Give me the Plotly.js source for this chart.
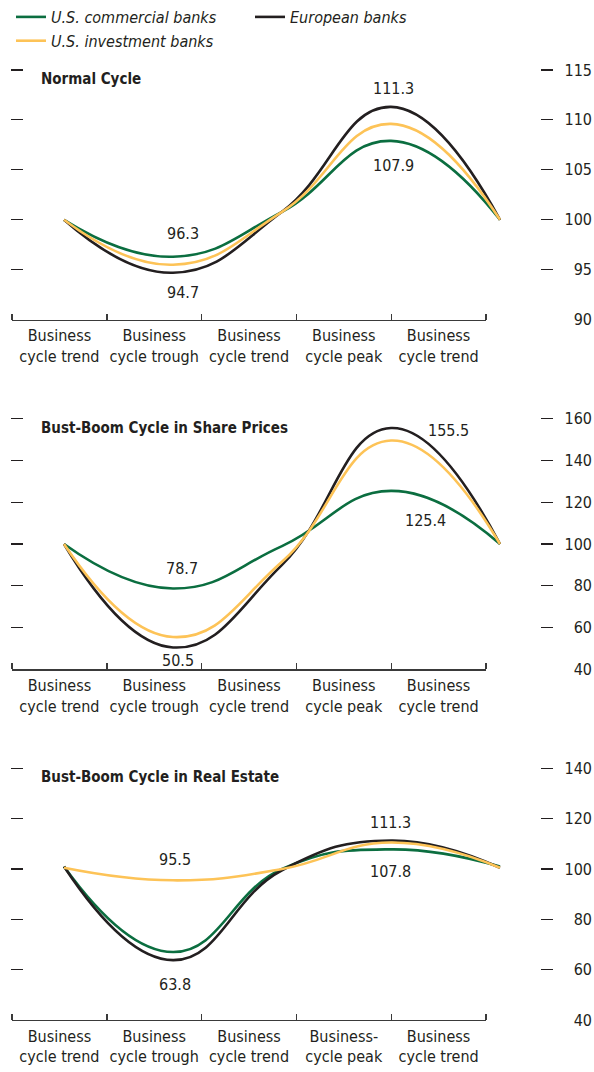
<!DOCTYPE html>
<html>
<head>
<meta charset="utf-8">
<script src="https://cdn.plot.ly/plotly-3.0.1.min.js"></script>
<style>html,body{margin:0;padding:0;background:#fff;}</style>
</head>
<body>
<div id="chart" style="width:594px;height:1072px;"></div>
<script>
// ---------- DATA ----------
const stageIndex = [0, 1, 2, 3, 4];
const stageLabels = ['Business<br>cycle trend', 'Business<br>cycle trough', 'Business<br>cycle trend', 'Business<br>cycle peak', 'Business<br>cycle trend'];
const stageLabels3 = ['Business<br>cycle trend', 'Business<br>cycle trough', 'Business<br>cycle trend', 'Business-<br>cycle peak', 'Business<br>cycle trend'];
const seriesNames = ['U.S. commercial banks', 'European banks', 'U.S. investment banks'];
const panelTitles = ['Normal Cycle', 'Bust-Boom Cycle in Share Prices', 'Bust-Boom Cycle in Real Estate'];

// Normal cycle
const normalCommercial = [100, 96.3, 100.8, 107.9, 100];
const normalEuropean   = [100, 94.7, 100.8, 111.3, 100];
const normalInvestment = [100, 95.5, 100.8, 109.6, 100];
// Bust-boom in share prices
const sharesCommercial = [100, 78.7, 99, 125.4, 100];
const sharesEuropean   = [100, 50.5, 90, 155.5, 100];
const sharesInvestment = [100, 55.5, 91.5, 149.5, 100];
// Bust-boom in real estate
const estateCommercial = [101, 67, 100, 107.8, 101];
const estateEuropean   = [101, 63.8, 99.5, 111.3, 100.5];
const estateInvestment = [100.5, 95.5, 100, 110.5, 100.5];

const yTicks1 = [90, 95, 100, 105, 110, 115];
const yTicks2 = [40, 60, 80, 100, 120, 140, 160];
const yTicks3 = [40, 60, 80, 100, 120, 140];

// ---------- STYLE ----------
const FONT = "'Liberation Sans Narrow', 'DejaVu Sans Condensed', 'Roboto Condensed', 'Arial Narrow', sans-serif";
const TXT = '#231f20';
const colors = ['#0b6e40', '#231f20', '#fdc357'];
const H = 1072, W = 594;
const px = v => v / W;
const py = v => 1 - v / H;

const panels = [
  {data: [normalCommercial, normalEuropean, normalInvestment], ticks: yTicks1, range: [90, 115], top: 69, bottom: 319, cats: stageLabels,
   labels: [[1, 3, 2, 18], [0, 3, 2, -25], [0, 1, 10, 23], [1, 1, 10, -20]]},
  {data: [sharesCommercial, sharesEuropean, sharesInvestment], ticks: yTicks2, range: [40, 160], top: 418, bottom: 669, cats: stageLabels,
   labels: [[1, 3, 57, -2], [0, 3, 34, -30], [0, 1, 9, 20], [1, 1, 5, -13]]},
  {data: [estateCommercial, estateEuropean, estateInvestment], ticks: yTicks3, range: [40, 140], top: 768, bottom: 1020, cats: stageLabels3,
   labels: [[2, 1, 2, 21], [1, 1, 2, -24], [1, 3, -1, 18], [0, 3, -1, -22]]}
];

const traces = [];
const layout = {
  width: W, height: H,
  margin: {l: 0, r: 0, t: 0, b: 0},
  paper_bgcolor: '#fff', plot_bgcolor: 'rgba(0,0,0,0)',
  font: {family: FONT, size: 16, color: TXT},
  showlegend: true,
  legend: {
    orientation: 'h', x: px(11), xanchor: 'left', y: py(-1), yanchor: 'top',
    entrywidth: 194, entrywidthmode: 'pixels', traceorder: 'normal',
    font: {family: FONT, size: 16, color: TXT, style: 'italic'},
    itemwidth: 30, tracegroupgap: 0, bgcolor: 'rgba(0,0,0,0)'
  },
  annotations: [],
  hovermode: false
};

panels.forEach((p, k) => {
  const xd = 'x' + (2 * k + 1), xl = 'x' + (2 * k + 2);
  const yd = 'y' + (2 * k + 1), yl = 'y' + (2 * k + 2);
  const xdKey = 'xaxis' + (2 * k + 1), xlKey = 'xaxis' + (2 * k + 2);
  const ydKey = 'yaxis' + (2 * k + 1), ylKey = 'yaxis' + (2 * k + 2);
  const dom = [py(p.bottom), py(p.top)];

  p.data.forEach((vals, s) => {
    traces.push({
      x: stageIndex, y: vals, xaxis: xd, yaxis: yd, type: 'scatter', mode: 'lines',
      name: seriesNames[s], legendgroup: seriesNames[s], showlegend: k === 0,
      line: {color: colors[s], width: 2.6, shape: 'spline', smoothing: 1.3},
      hoverinfo: 'skip'
    });
  });
  // placeholder traces so that the category-axis and tick-label-axis subplots exist
  traces.push({x: [], y: [], xaxis: xl, yaxis: yd, type: 'scatter', mode: 'lines', showlegend: false, hoverinfo: 'skip'});
  traces.push({x: [], y: [], xaxis: xd, yaxis: yl, type: 'scatter', mode: 'lines', showlegend: false, hoverinfo: 'skip'});

  layout[xdKey] = {domain: [px(24), px(540)], range: [-0.367, 4.367], anchor: yd, visible: false, fixedrange: true};
  layout[xlKey] = {
    domain: [px(12), px(486)], range: [0, 5], anchor: yd,
    tickmode: 'array', tickvals: [0.5, 1.5, 2.5, 3.5, 4.5], ticktext: p.cats,
    ticks: '', showgrid: false, zeroline: false,
    showline: true, linecolor: '#3a3a3a', linewidth: 1.4,
    minor: {tickmode: 'array', tickvals: [0, 1, 2, 3, 4, 5], ticks: 'inside', ticklen: 6, tickcolor: '#3a3a3a', tickwidth: 1.4, showgrid: false},
    tickfont: {family: FONT, size: 16, color: TXT}, ticklabelstandoff: 1, fixedrange: true
  };
  layout[ydKey] = {
    domain: dom, range: p.range, anchor: xd, side: 'right',
    tickmode: 'array', tickvals: p.ticks.slice(1), showticklabels: false,
    ticks: 'outside', ticklen: 12, tickwidth: 1.2, tickcolor: TXT, mirror: 'ticks',
    showline: false, showgrid: false, zeroline: false, fixedrange: true
  };
  layout[ylKey] = {
    overlaying: yd, range: p.range, anchor: 'free', side: 'left', position: px(592),
    tickmode: 'array', tickvals: p.ticks, ticks: '',
    showline: false, showgrid: false, zeroline: false,
    tickfont: {family: FONT, size: 16, color: TXT}, fixedrange: true
  };

  // panel title
  layout.annotations.push({
    xref: 'paper', yref: 'paper', x: px(39), y: py(p.top + 9), xanchor: 'left', yanchor: 'middle',
    text: '<b>' + panelTitles[k] + '</b>', showarrow: false,
    font: {family: FONT, size: 15, color: TXT}
  });
  // value labels
  p.labels.forEach(([s, idx, dx, dy]) => {
    layout.annotations.push({
      xref: xd, yref: yd, x: stageIndex[idx], y: p.data[s][idx],
      text: p.data[s][idx].toFixed(1), showarrow: false,
      xanchor: 'center', yanchor: 'middle', xshift: dx, yshift: dy,
      font: {family: FONT, size: 16, color: TXT}
    });
  });
});

Plotly.newPlot('chart', traces, layout, {staticPlot: true, displayModeBar: false});
</script>
</body>
</html>
